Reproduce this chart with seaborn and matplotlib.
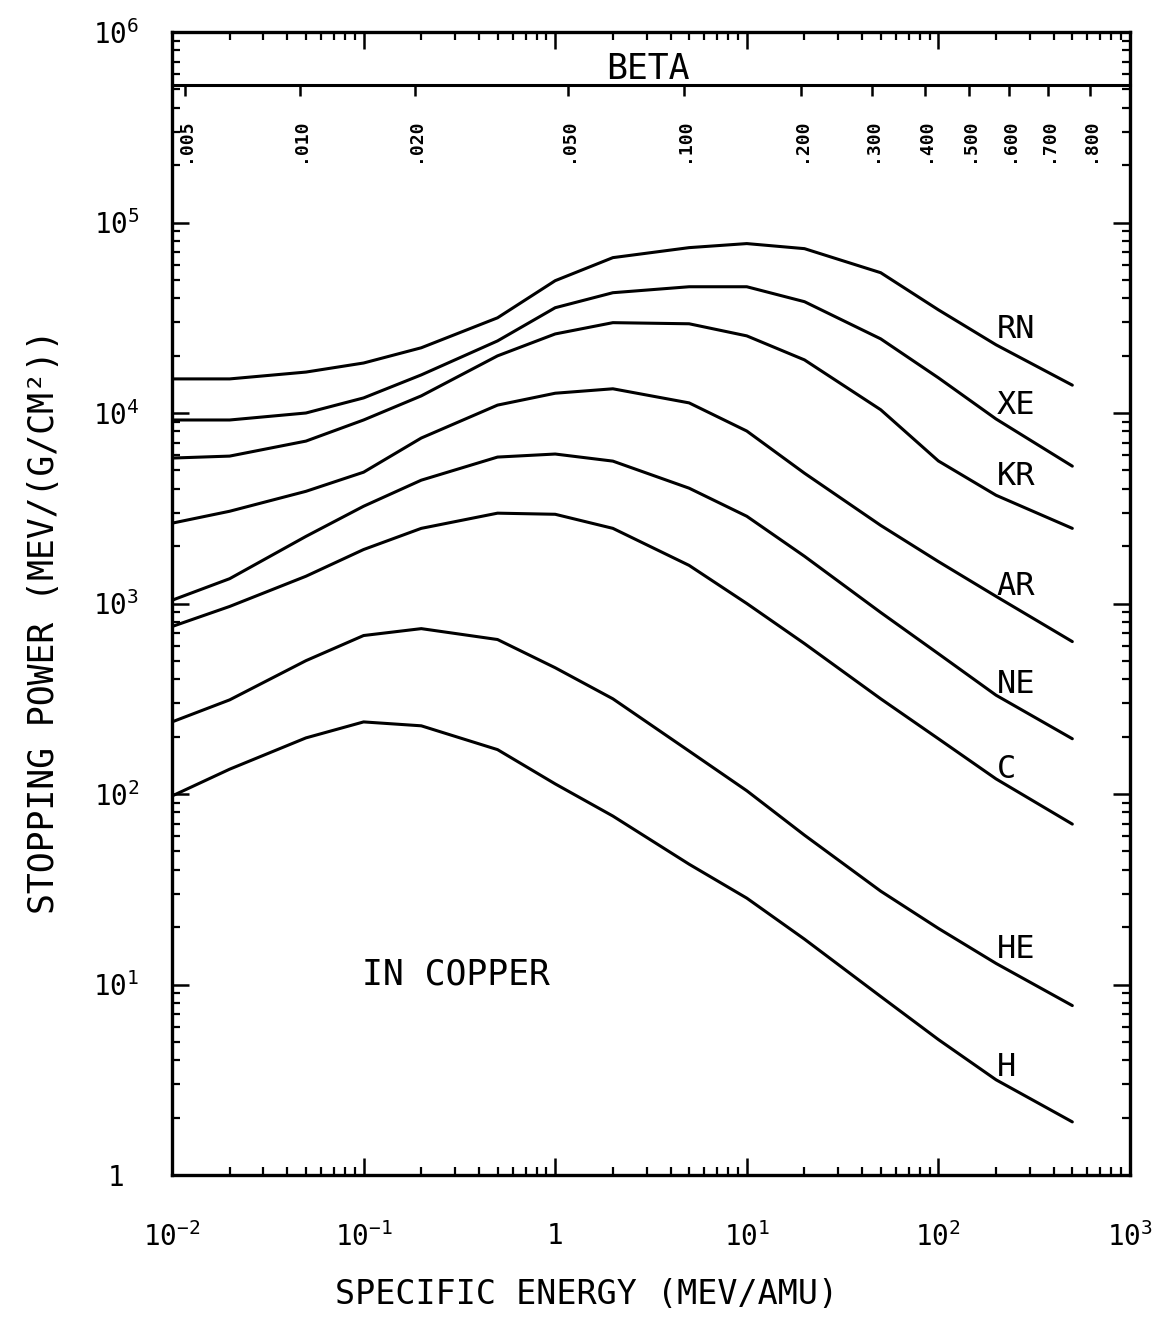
import numpy as np
import pandas as pd
import matplotlib
matplotlib.use("Agg")
import matplotlib.pyplot as plt
import matplotlib.ticker as mticker
import seaborn as sns

# ---------------- data ----------------
energy = [0.01, 0.02, 0.05, 0.1, 0.2, 0.5, 1, 2, 5, 10, 20, 50, 100, 200, 500]

sp_rn = [15100, 15100, 16400, 18300, 22000, 31600, 49500, 65400, 73800, 77500, 72900, 54500, 34800, 22800, 14000]
sp_xe = [9190, 9190, 10000, 12000, 15850, 23900, 35700, 42800, 46000, 46000, 38400, 24500, 15300, 9300, 5260]
sp_kr = [5800, 5940, 7120, 9190, 12300, 19950, 26000, 29800, 29400, 25400, 19000, 10400, 5600, 3700, 2480]
sp_ar = [2640, 3050, 3880, 4890, 7390, 11000, 12700, 13400, 11300, 8040, 4830, 2570, 1660, 1090, 631]
sp_ne = [1040, 1350, 2250, 3240, 4440, 5870, 6090, 5590, 4030, 2870, 1770, 897, 545, 330, 195]
sp_c = [757, 965, 1390, 1920, 2480, 2980, 2940, 2480, 1585, 1000, 616, 316, 195, 120, 69.5]
sp_he = [239, 312, 501, 679, 738, 647, 460, 316, 168, 104, 60.8, 30.9, 19.7, 12.9, 7.75]
sp_h = [97.6, 135, 197, 239, 228, 171, 113, 76.6, 42.8, 28.4, 17.3, 8.65, 5.14, 3.16, 1.9]

ions = ["RN", "XE", "KR", "AR", "NE", "C", "HE", "H"]
series = [sp_rn, sp_xe, sp_kr, sp_ar, sp_ne, sp_c, sp_he, sp_h]

label_x = 202
label_y = [27400, 10900, 4660, 1230, 375, 135, 15.3, 3.66]

beta_ticks = [0.005, 0.010, 0.020, 0.050, 0.100, 0.200, 0.300, 0.400, 0.500, 0.600, 0.700, 0.800]
beta_labels = [".005", ".010", ".020", ".050", ".100", ".200", ".300", ".400", ".500", ".600", ".700", ".800"]

xticks = [1e-2, 1e-1, 1, 1e1, 1e2, 1e3]
xtick_labels = ["$10^{-2}$", "$10^{-1}$", "1", "$10^{1}$", "$10^{2}$", "$10^{3}$"]
yticks = [1, 1e1, 1e2, 1e3, 1e4, 1e5, 1e6]
ytick_labels = ["1", "$10^{1}$", "$10^{2}$", "$10^{3}$", "$10^{4}$", "$10^{5}$", "$10^{6}$"]

beta_line_y = 5.26e5
AMU_MEV = 931.5

# ---------------- style ----------------
sns.set_style("white")
FONT = ["DejaVu Sans Mono", "DejaVu Sans"]
plt.rcParams["font.family"] = FONT
plt.rcParams["mathtext.fontset"] = "custom"
plt.rcParams["mathtext.rm"] = "DejaVu Sans Mono"
plt.rcParams["mathtext.it"] = "DejaVu Sans Mono"
plt.rcParams["mathtext.bf"] = "DejaVu Sans Mono:bold"
for key in ["text.color", "axes.labelcolor", "xtick.color", "ytick.color", "axes.edgecolor"]:
    plt.rcParams[key] = "black"

df = pd.DataFrame({
    "energy": np.tile(energy, len(ions)),
    "sp": np.concatenate([np.asarray(s, float) for s in series]),
    "ion": np.repeat(ions, len(energy)),
})

fig = plt.figure(figsize=(11.64, 13.24), dpi=100)
ax = fig.add_axes([172 / 1164, 1 - 1175 / 1324, 958 / 1164, 1143 / 1324])

sns.lineplot(data=df, x="energy", y="sp", units="ion", estimator=None,
             color="black", linewidth=2.2, ax=ax, legend=False)

ax.set_xscale("log")
ax.set_yscale("log")
ax.set_xlim(1e-2, 1e3)
ax.set_ylim(1, 1e6)

for sp in ax.spines.values():
    sp.set_visible(True)
    sp.set_linewidth(2.4)
    sp.set_color("black")

ax.set_xticks(xticks)
ax.set_xticklabels(xtick_labels)
ax.set_yticks(yticks)
ax.set_yticklabels(ytick_labels)
ax.xaxis.set_minor_locator(mticker.LogLocator(base=10, subs=np.arange(2, 10), numticks=100))
ax.yaxis.set_minor_locator(mticker.LogLocator(base=10, subs=np.arange(2, 10), numticks=100))
ax.xaxis.set_minor_formatter(mticker.NullFormatter())
ax.yaxis.set_minor_formatter(mticker.NullFormatter())

ax.tick_params(which="both", direction="in", top=True, right=True, bottom=True, left=True,
               color="black", labelcolor="black")
ax.tick_params(which="major", length=12, width=1.8)
ax.tick_params(which="minor", length=6, width=1.6)
ax.tick_params(axis="x", which="major", labelsize=20, pad=34)
ax.tick_params(axis="y", which="major", labelsize=20, pad=40)
for t in ax.get_yticklabels():
    t.set_horizontalalignment("center")

ax.set_xlabel("SPECIFIC ENERGY (MEV/AMU)", fontsize=24)
ax.xaxis.set_label_coords(0.433, -0.09)
ax.xaxis.label.set_verticalalignment("top")
ax.set_ylabel("STOPPING POWER (MEV/(G/CM²))", fontsize=25)
ax.yaxis.set_label_coords(-0.116, 0.484)
ax.grid(False)

# curve labels
for name, ly in zip(ions, label_y):
    ax.text(label_x, ly, name, fontsize=23, ha="left", va="center")

ax.text(0.098, 11.3, "IN COPPER", fontsize=25, ha="left", va="center")

# ---------------- beta scale ----------------
def energy_to_beta(e):
    e = np.asarray(e, float)
    with np.errstate(all="ignore"):
        g = 1.0 + e / AMU_MEV
        return np.sqrt(np.clip(1.0 - 1.0 / g ** 2, 0, None))


def beta_to_energy(b):
    b = np.asarray(b, float)
    with np.errstate(all="ignore"):
        return AMU_MEV * (1.0 / np.sqrt(1.0 - b ** 2) - 1.0)


beta_pos = np.log10(beta_line_y) / 6.0
secax = ax.secondary_xaxis(beta_pos, functions=(energy_to_beta, beta_to_energy))
secax.set_alignment("bottom")
secax.set_xticks(beta_ticks)
secax.set_xticklabels(beta_labels)
secax.xaxis.set_minor_locator(mticker.NullLocator())
secax.tick_params(axis="x", which="major", direction="out", length=8, width=1.8,
                  labelsize=13, pad=16, labelrotation=90, color="black", labelcolor="black")
for t in secax.get_xticklabels():
    t.set_fontweight("bold")
for s in secax.spines.values():
    s.set_linewidth(2.2)
    s.set_color("black")

ax.text(3.05, 6.39e5, "BETA", fontsize=25, ha="center", va="center")

fig.savefig("out.png", dpi=100, facecolor="white")
